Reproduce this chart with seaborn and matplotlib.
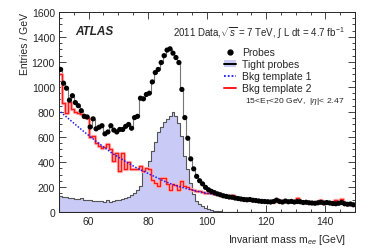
import numpy as np
import pandas as pd
import matplotlib
matplotlib.use("Agg")
import matplotlib.pyplot as plt
from matplotlib.lines import Line2D
from matplotlib.patches import Patch
from matplotlib.ticker import MultipleLocator
import seaborn as sns

# 1 GeV bins from 50 to 150
edges = list(range(50, 151))
centers = [e + 0.5 for e in edges[:-1]]

probes = [1140, 1030, 990, 895, 930, 875, 850, 810, 765, 760,
          680, 745, 665, 678, 690, 625, 640, 690, 655, 640,
          660, 660, 685, 700, 670, 755, 765, 910, 905, 940,
          950, 1040, 1115, 1140, 1195, 1250, 1295, 1305, 1270, 1235,
          1195, 980, 755, 590, 425, 345, 285, 250, 225, 197,
          178, 165, 155, 145, 138, 130, 125, 120, 118, 112,
          108, 104, 100, 98, 100, 94, 92, 88, 85, 84,
          82, 80, 84, 95, 84, 80, 88, 82, 85, 80,
          84, 82, 76, 78, 74, 72, 70, 74, 78, 72,
          76, 72, 68, 66, 70, 76, 66, 62, 64, 58]

tight = [125, 120, 118, 112, 115, 108, 105, 110, 100, 98,
         95, 92, 88, 85, 90, 82, 95, 80, 92, 95,
         100, 105, 112, 120, 140, 155, 175, 210, 320, 345,
         410, 490, 560, 640, 680, 720, 745, 770, 800, 770,
         715, 610, 450, 340, 235, 145, 90, 62, 45, 32,
         22, 15, 10, 7, 5, 4, 3, 2, 2, 1,
         1, 1, 1, 0, 0, 0, 0, 0, 0, 0,
         0, 0, 0, 0, 0, 0, 0, 0, 0, 0,
         0, 0, 0, 0, 0, 0, 0, 0, 0, 0,
         0, 0, 0, 0, 0, 0, 0, 0, 0, 0]

bkg1 = [800, 780, 760, 740, 720, 700, 680, 660, 640, 622,
        605, 585, 565, 548, 530, 512, 495, 478, 462, 447,
        432, 418, 403, 390, 376, 362, 350, 338, 327, 316,
        303, 292, 281, 270, 258, 247, 237, 228, 220, 212,
        205, 198, 191, 185, 179, 173, 167, 162, 157, 152,
        148, 144, 140, 136, 132, 129, 126, 123, 120, 117,
        114, 112, 109, 107, 105, 103, 101, 99, 97, 95,
        93, 92, 90, 89, 87, 86, 85, 83, 82, 81,
        80, 79, 78, 77, 76, 75, 74, 73, 72, 71,
        70, 69, 68, 67, 66, 65, 64, 63, 62, 61]

bkg2 = [1100, 875, 790, 880, 825, 800, 790, 785, 760, 755,
        600, 610, 548, 528, 512, 520, 540, 500, 410, 475,
        330, 470, 340, 400, 345, 340, 340, 365, 330, 355,
        345, 260, 235, 210, 275, 275, 225, 180, 225, 215,
        180, 250, 210, 200, 185, 175, 170, 172, 160, 155,
        150, 150, 145, 150, 140, 130, 128, 120, 140, 110,
        112, 105, 102, 100, 98, 95, 100, 92, 88, 90,
        85, 88, 82, 105, 88, 80, 92, 85, 90, 80,
        110, 85, 78, 80, 75, 78, 72, 80, 95, 75,
        78, 80, 70, 100, 72, 105, 70, 62, 65, 58]

df = pd.DataFrame({"m": centers, "probes": probes, "tight": tight,
                   "bkg1": bkg1, "bkg2": bkg2})

sns.set_theme(style="ticks")
plt.rcParams["font.family"] = ["Liberation Sans", "DejaVu Sans"]
plt.rcParams["mathtext.fontset"] = "custom"
plt.rcParams["mathtext.rm"] = "Liberation Sans"
plt.rcParams["mathtext.it"] = "Liberation Sans:italic"

fig = plt.figure(figsize=(3.74, 2.53), dpi=100)
ax = fig.add_axes([0.158, 0.158, 0.791, 0.791])

sns.histplot(data=df, x="m", weights="tight", bins=edges, element="step",
             fill=True, color="#cacaf7", alpha=1.0, edgecolor="#555555",
             linewidth=0.8, ax=ax)
sns.histplot(data=df, x="m", weights="probes", bins=edges, element="step",
             fill=False, color="#777777", linewidth=0.8, ax=ax)
# light halo under the red template, as in the original rendering
sns.histplot(data=df, x="m", weights="bkg2", bins=edges, element="step",
             fill=False, color="#ffb4b4", linewidth=2.4, ax=ax)
sns.histplot(data=df, x="m", weights="bkg2", bins=edges, element="step",
             fill=False, color="#ff1a1a", linewidth=1.0, ax=ax)
sns.lineplot(data=df, x="m", y="bkg1", color="#1a1aff", linestyle=(0, (1, 1.1)),
             linewidth=1.1, ax=ax)
sns.scatterplot(data=df, x="m", y="probes", color="black", s=14,
                edgecolor="none", ax=ax, zorder=5)

ax.set_xlim(50, 150)
ax.set_ylim(0, 1600)
ax.xaxis.set_major_locator(MultipleLocator(20))
ax.xaxis.set_minor_locator(MultipleLocator(5))
ax.yaxis.set_major_locator(MultipleLocator(200))
ax.yaxis.set_minor_locator(MultipleLocator(50))
ax.tick_params(which="both", direction="in", top=True, right=True,
               labelsize=7.5, width=0.6, pad=3)
ax.tick_params(which="major", length=5)
ax.tick_params(which="minor", length=2.5)
for sp in ax.spines.values():
    sp.set_linewidth(0.7)

ax.set_xlabel("Invariant mass m$_{ee}$ [GeV]", fontsize=7.5, loc="right")
ax.xaxis.set_label_coords(0.97, -0.1)
ax.set_ylabel("Entries / GeV", fontsize=7.5, loc="top", labelpad=1)

ax.text(0.055, 0.905, "ATLAS", transform=ax.transAxes, fontsize=8.5,
        fontweight="bold", fontstyle="italic", va="center")
ax.text(0.965, 0.9, r"2011 Data,$\sqrt{s}$ = 7 TeV, $\int$ L dt = 4.7 fb$^{-1}$",
        transform=ax.transAxes, fontsize=7.0, ha="right", va="center")
ax.text(0.965, 0.555, r"15<E$_{\mathrm{T}}$<20 GeV,  |$\eta$|< 2.47",
        transform=ax.transAxes, fontsize=6.1, ha="right", va="center")

handles = [
    Line2D([], [], marker="o", color="black", linestyle="none", markersize=3.5),
    (Patch(facecolor="#cacaf7", edgecolor="none"),
     Line2D([], [], color="black", linewidth=1.4)),
    Line2D([], [], color="#1a1aff", linestyle=(0, (1, 1.1)), linewidth=1.3),
    Line2D([], [], color="#ff1a1a", linewidth=1.4),
]
labels = ["Probes", "Tight probes", "Bkg template 1", "Bkg template 2"]
ax.legend(handles, labels, loc="upper left", bbox_to_anchor=(0.535, 0.855),
          frameon=False, fontsize=7.5, handlelength=1.2, handletextpad=0.6,
          labelspacing=0.2, borderpad=0.1)

fig.savefig("out.png", dpi=100)
